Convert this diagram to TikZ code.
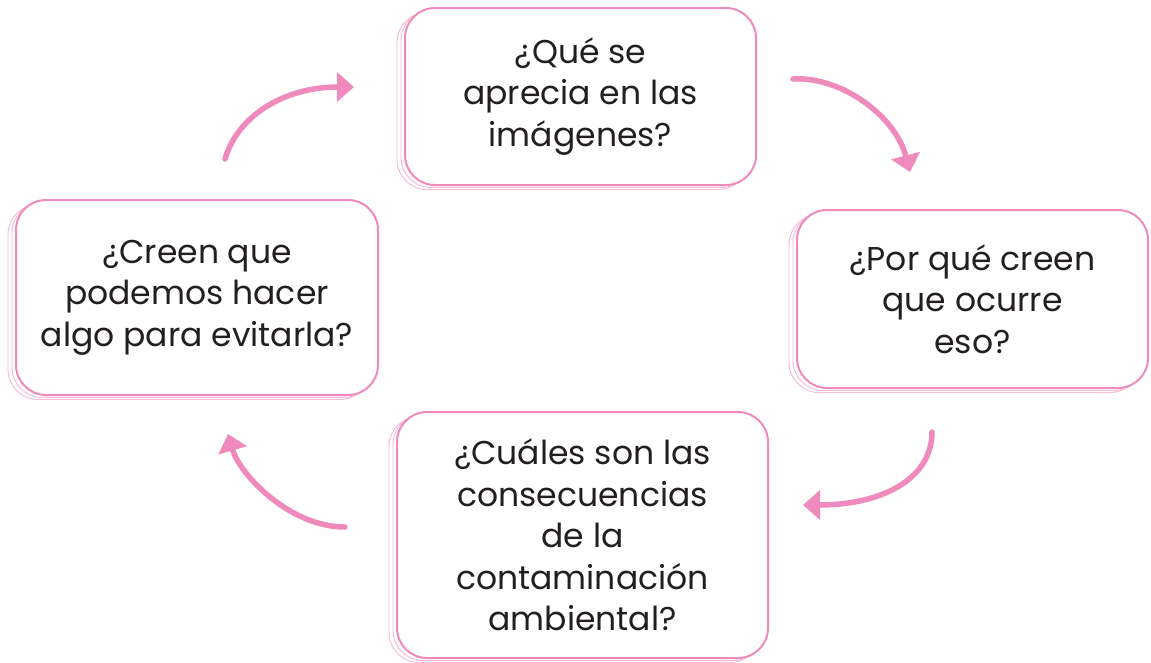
\documentclass[tikz,border=0pt]{standalone}
\usepackage{fontspec}
\setmainfont{Poppins}
\usetikzlibrary{arrows.meta,shadows}

\definecolor{rosa}{RGB}{239,139,188}
\definecolor{rosapale}{RGB}{246,185,214}
\definecolor{texto}{RGB}{35,31,32}

\tikzset{
  tarjeta/.style={draw=rosa, line width=2pt, fill=white, rounded corners=30pt,
    align=center, text=texto, font=\fontsize{33}{41.5}\selectfont, inner sep=0pt,
    copy shadow={shadow xshift=-8pt, shadow yshift=-4.5pt, draw=rosapale, line width=0.9pt},
    copy shadow={shadow xshift=-4pt, shadow yshift=-2.5pt, draw=rosapale, line width=0.9pt}},
  flecha/.style={draw=rosa, line width=5.5pt, line cap=round,
    -{Triangle[length=17pt,width=29pt]}}
}

\begin{document}
\begin{tikzpicture}[x=1pt,y=-1pt]
        \useasboundingbox (0,0) rectangle (1151,662);

        % Tarjetas
        \node[tarjeta, minimum width=351pt, minimum height=177pt] (q1) at (580.5,96.5)
            {¿Qué se\\aprecia en las\\imágenes?};
        \node[tarjeta, minimum width=351pt, minimum height=178pt] (q2) at (972.5,299)
            {¿Por qué creen\\que ocurre\\eso?};
        \node[tarjeta, minimum width=371pt, minimum height=246pt] (q3) at (582.5,535)
            {¿Cuáles son las\\consecuencias\\de la\\contaminación\\ambiental?};
        \node[tarjeta, minimum width=362pt, minimum height=195pt] (q4) at (197,297.5)
            {¿Creen que\\podemos hacer\\algo para evitarla?};

        % Extremos de las flechas
        \coordinate (a1s) at (225,159);
        \coordinate (a1e) at (354,87);
        \coordinate (a2s) at (793,79);
        \coordinate (a2e) at (910,172);
        \coordinate (a3s) at (932,432);
        \coordinate (a3e) at (803,505);
        \coordinate (a4s) at (345,527);
        \coordinate (a4e) at (228,434);

        % Flechas del ciclo
        \draw[flecha] (a1s) .. controls (238,115) and (285,87) .. (a1e);
        \draw[flecha] (a2s) .. controls (840,76) and (895,115) .. (a2e);
        \draw[flecha] (a3s) .. controls (932,480) and (880,505) .. (a3e);
        \draw[flecha] (a4s) .. controls (290,527) and (240,475) .. (a4e);
    \end{tikzpicture}
\end{document}
